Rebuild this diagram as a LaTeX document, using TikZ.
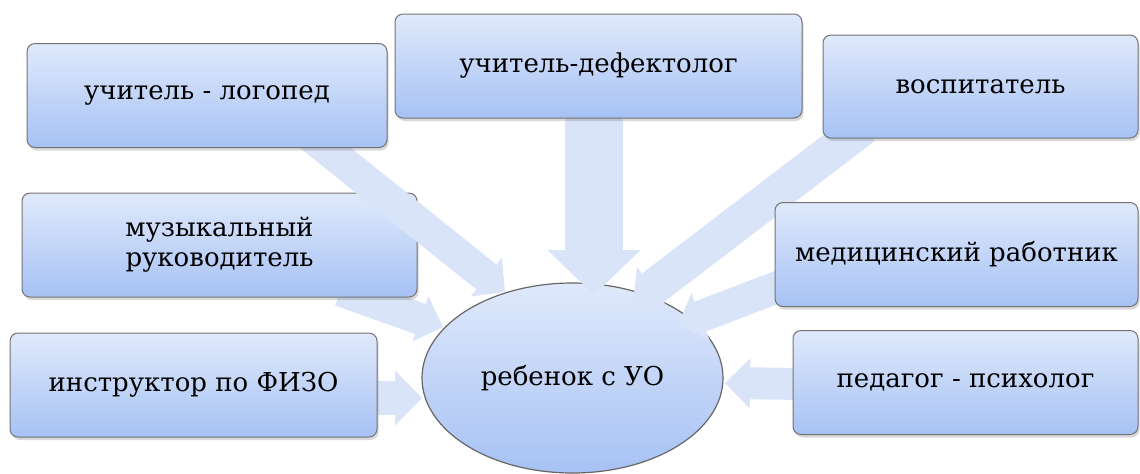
\documentclass[tikz,border=0pt]{standalone}
\usepackage{fontspec}
\setmainfont{DejaVu Serif}
\usetikzlibrary{positioning}
\usetikzlibrary{calc}
\usetikzlibrary{shapes.geometric}
\usetikzlibrary{arrows.meta}
\usetikzlibrary{shadows}
\definecolor{box top colour}{HTML}{E0E9FB}
\definecolor{box bottom colour}{HTML}{A6C2F4}
\definecolor{arrow colour}{HTML}{D9E4F9}
\colorlet{edge colour}{black!55}
\tikzset{
    % Boxes for the people around the child
    staff/.style={draw=edge colour, line width=0.5pt, rounded corners=4pt,
        top color=box top colour, bottom color=box bottom colour,
        drop shadow={opacity=0.3, shadow xshift=0.8pt, shadow yshift=-1.5pt},
        minimum height=52pt, align=center,
        font=\fontsize{13}{15}\selectfont},
    % Wide flat arrows: shaft, head width, head length
    pointer/.style n args={3}{draw=arrow colour, line width=#1,
        -{Triangle[length=#3, width=#2, line width=0pt]}},
}
\pgfdeclarelayer{oval}
\pgfdeclarelayer{under}
\pgfdeclarelayer{front}
\pgfsetlayers{oval,under,main,front}

\begin{document}
\begin{tikzpicture}[x=0.5pt, y=-0.5pt,
    child oval/.style={ellipse, draw=black!60, line width=0.6pt,
        top color=box top colour, bottom color=box bottom colour,
        minimum width=150.5pt, minimum height=95pt, inner sep=0pt,
        font=\fontsize{13}{15}\selectfont},
    ]
\useasboundingbox (0,0) rectangle (1140,473);

\begin{pgfonlayer}{oval}
\node (child) [child oval] at (572.5,378) {ребенок с УО};
\end{pgfonlayer}

\begin{pgfonlayer}{front}
\node (logoped) [staff, minimum width=180pt] at (207,95.5) {учитель - логопед};
\node (defekt) [staff, minimum width=203.5pt] at (598.5,66) {учитель-дефектолог};
\node (vospit) [staff, minimum width=157.5pt, minimum height=51.5pt]
    at (980.5,86.5) {воспитатель};
\node (medic) [staff, minimum width=181.5pt] at (956.5,254.5) {медицинский работник};
\node (fizo) [staff, minimum width=183.5pt] at (193.5,385) {инструктор по ФИЗО};
\node (psych) [staff, minimum width=172.5pt] at (965.5,382.5) {педагог - психолог};
\end{pgfonlayer}
% this one lies under the arrow from the speech therapist
\node (muzyk) [staff, minimum width=197.5pt] at (219.5,245) {музыкальный\\руководитель};

\begin{pgfonlayer}{under}
\draw [pointer={16pt}{24pt}{12pt}] ($(muzyk.south)+(121,-7)$) -- ($(child)+(-129.5,-51)$);
\end{pgfonlayer}

\draw [pointer={16pt}{25pt}{12pt}] ($(logoped.south)+(103,-12.5)$) -- ($(child)+(-67.5,-86)$);
\draw [pointer={29pt}{46.5pt}{22.5pt}] ($(defekt.south)+(-4.5,-8)$) -- ($(child)+(21.5,-83)$);
\draw [pointer={18pt}{26pt}{12.5pt}] ($(vospit.south)+(-116.5,-12)$) -- ($(child)+(60.5,-75)$);
\draw [pointer={16pt}{25pt}{12pt}] ($(medic.west)+(19,26.5)$) -- ($(child)+(105.5,-53)$);
\draw [pointer={17pt}{27.5pt}{13.5pt}] ($(fizo.east)+(-15,13)$) -- ($(child)+(-150.5,20)$);
\draw [pointer={16pt}{25pt}{12.5pt}] ($(psych.west)+(12,1.5)$) -- ($(child)+(152.5,5)$);

\end{tikzpicture}
\end{document}
